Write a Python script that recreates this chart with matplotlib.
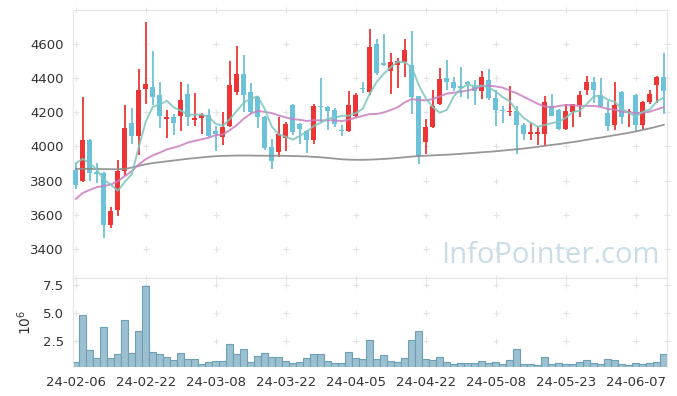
import numpy as np
import matplotlib
matplotlib.use("Agg")
import matplotlib.pyplot as plt

# trading days (KRX), shown as YY-MM-DD
dates = [
    "24-02-06", "24-02-07", "24-02-08", "24-02-13", "24-02-14", "24-02-15", "24-02-16",
    "24-02-19", "24-02-20", "24-02-21", "24-02-22", "24-02-23", "24-02-26", "24-02-27",
    "24-02-28", "24-02-29", "24-03-04", "24-03-05", "24-03-06", "24-03-07", "24-03-08",
    "24-03-11", "24-03-12", "24-03-13", "24-03-14", "24-03-15", "24-03-18", "24-03-19",
    "24-03-20", "24-03-21", "24-03-22", "24-03-25", "24-03-26", "24-03-27", "24-03-28",
    "24-03-29", "24-04-01", "24-04-02", "24-04-03", "24-04-04", "24-04-05", "24-04-08",
    "24-04-09", "24-04-11", "24-04-12", "24-04-15", "24-04-16", "24-04-17", "24-04-18",
    "24-04-19", "24-04-22", "24-04-23", "24-04-24", "24-04-25", "24-04-26", "24-04-29",
    "24-04-30", "24-05-02", "24-05-03", "24-05-07", "24-05-08", "24-05-09", "24-05-10",
    "24-05-13", "24-05-14", "24-05-16", "24-05-17", "24-05-20", "24-05-21", "24-05-22",
    "24-05-23", "24-05-24", "24-05-27", "24-05-28", "24-05-29", "24-05-30", "24-05-31",
    "24-06-03", "24-06-04", "24-06-05", "24-06-07", "24-06-10", "24-06-11", "24-06-12",
    "24-06-13",
]

opens = [
    3861, 3798, 4037, 3849, 3843, 3537, 3627, 3855, 4137, 4062,
    4333, 4345, 4300, 4162, 4173, 4180, 4308, 4151, 4167, 4184,
    4088, 4057, 4116, 4316, 4425, 4320, 4290, 4173, 3997, 3968,
    4046, 4242, 4131, 4090, 4039, 4237, 4231, 4214, 4092, 4092,
    4178, 4338, 4316, 4598, 4486, 4439, 4476, 4492, 4478, 4295,
    4028, 4110, 4247, 4398, 4378, 4352, 4368, 4345, 4322, 4388,
    4284, 4206, 4198, 4208, 4127, 4074, 4074, 4069, 4233, 4214,
    4104, 4202, 4239, 4327, 4378, 4298, 4192, 4127, 4320, 4198,
    4302, 4127, 4257, 4359, 4408,
]
highs = [
    3902, 4290, 4040, 3904, 3850, 3647, 3918, 4241, 4222, 4453,
    4725, 4559, 4376, 4212, 4188, 4378, 4365, 4312, 4194, 4216,
    4120, 4202, 4500, 4588, 4535, 4369, 4295, 4180, 4041, 4171,
    4140, 4245, 4137, 4095, 4248, 4401, 4237, 4222, 4124, 4324,
    4310, 4376, 4688, 4629, 4659, 4547, 4517, 4629, 4676, 4296,
    4159, 4329, 4459, 4502, 4404, 4463, 4380, 4388, 4443, 4449,
    4331, 4237, 4353, 4237, 4139, 4139, 4120, 4296, 4306, 4220,
    4247, 4250, 4325, 4412, 4405, 4400, 4264, 4377, 4322, 4218,
    4303, 4263, 4332, 4412, 4547,
]
lows = [
    3751, 3790, 3800, 3786, 3465, 3524, 3594, 3829, 4012, 3949,
    4247, 4243, 4106, 4047, 4067, 4088, 4118, 4118, 4071, 4055,
    3973, 4006, 4110, 4302, 4198, 4190, 4105, 3977, 3865, 3935,
    3975, 4068, 4016, 3958, 4012, 4143, 4094, 4114, 4059, 4085,
    4170, 4310, 4302, 4419, 4470, 4308, 4339, 4404, 4190, 3894,
    3955, 4105, 4240, 4329, 4325, 4290, 4276, 4241, 4276, 4270,
    4118, 4139, 4178, 3953, 4035, 4035, 4006, 4002, 4175, 4094,
    4098, 4110, 4170, 4300, 4253, 4230, 4088, 4094, 4129, 4115,
    4088, 4104, 4250, 4251, 4190,
]
closes = [
    3772, 4037, 3845, 3839, 3539, 3620, 3855, 4108, 4063, 4331,
    4367, 4286, 4175, 4172, 4137, 4273, 4169, 4167, 4182, 4063,
    4074, 4112, 4361, 4425, 4302, 4198, 4169, 3992, 3915, 4072,
    4131, 4086, 4102, 4039, 4235, 4227, 4204, 4133, 4090, 4243,
    4302, 4333, 4578, 4431, 4476, 4490, 4498, 4561, 4290, 3943,
    4113, 4237, 4396, 4375, 4339, 4340, 4365, 4324, 4408, 4282,
    4215, 4204, 4208, 4127, 4069, 4084, 4084, 4261, 4180, 4104,
    4208, 4245, 4302, 4374, 4329, 4235, 4121, 4243, 4169, 4208,
    4127, 4261, 4308, 4404, 4325,
]

# volume, millions of shares
volumes = [
    0.60, 4.82, 1.66, 0.93, 3.73, 0.93, 1.30, 4.37, 1.39, 3.37,
    7.47, 1.48, 1.30, 1.02, 0.75, 1.39, 0.84, 0.84, 0.39, 0.60,
    0.66, 0.66, 2.20, 1.30, 1.75, 0.57, 1.11, 1.39, 1.02, 1.02,
    0.66, 0.48, 0.57, 0.93, 1.30, 1.30, 0.66, 0.48, 0.48, 1.48,
    0.93, 0.84, 2.56, 0.84, 1.20, 0.66, 0.57, 0.93, 2.56, 3.37,
    0.84, 0.75, 1.02, 0.57, 0.39, 0.48, 0.48, 0.48, 0.66, 0.48,
    0.57, 0.39, 0.75, 1.75, 0.39, 0.39, 0.30, 1.02, 0.39, 0.48,
    0.39, 0.39, 0.57, 0.75, 0.48, 0.39, 0.84, 0.75, 0.39, 0.30,
    0.48, 0.39, 0.48, 0.57, 1.30,
]

# moving averages as drawn on the chart (5, 20, 60 days)
ma5 = [
    3900, 3927, 3900, 3864, 3806, 3776, 3740, 3792, 3837, 3995,
    4145, 4231, 4244, 4266, 4227, 4209, 4185, 4184, 4186, 4171,
    4131, 4120, 4158, 4207, 4255, 4280, 4291, 4217, 4115, 4069,
    4056, 4039, 4061, 4086, 4119, 4138, 4161, 4168, 4178, 4179,
    4194, 4220, 4309, 4377, 4424, 4462, 4495, 4491, 4463, 4356,
    4281, 4229, 4196, 4213, 4292, 4337, 4363, 4349, 4355, 4344,
    4319, 4287, 4263, 4207, 4165, 4138, 4114, 4125, 4136, 4143,
    4167, 4200, 4208, 4247, 4292, 4297, 4272, 4260, 4219, 4195,
    4174, 4202, 4215, 4262, 4285,
]
ma20 = [
    3692, 3727, 3745, 3761, 3768, 3776, 3796, 3825, 3855, 3894,
    3924, 3947, 3963, 3982, 3992, 4005, 4022, 4032, 4041, 4050,
    4065, 4069, 4095, 4124, 4162, 4191, 4207, 4201, 4194, 4181,
    4169, 4159, 4155, 4148, 4153, 4151, 4153, 4151, 4147, 4156,
    4167, 4178, 4189, 4189, 4198, 4212, 4229, 4257, 4276, 4270,
    4269, 4276, 4291, 4308, 4313, 4319, 4327, 4336, 4352, 4354,
    4350, 4343, 4325, 4310, 4289, 4269, 4248, 4233, 4228, 4236,
    4241, 4241, 4236, 4236, 4236, 4230, 4218, 4214, 4202, 4199,
    4194, 4197, 4202, 4216, 4229,
]
ma60 = [
    3868, 3868, 3868, 3867, 3867, 3866, 3866, 3868, 3876, 3886,
    3895, 3902, 3907, 3912, 3917, 3922, 3927, 3931, 3935, 3939,
    3942, 3944, 3945, 3946, 3946, 3946, 3945, 3945, 3945, 3945,
    3944, 3943, 3942, 3941, 3938, 3936, 3932, 3928, 3924, 3922,
    3921, 3921, 3922, 3924, 3926, 3929, 3932, 3936, 3940, 3943,
    3945, 3947, 3949, 3951, 3953, 3956, 3959, 3962, 3965, 3968,
    3971, 3975, 3979, 3983, 3987, 3992, 3997, 4003, 4008, 4013,
    4019, 4025, 4031, 4038, 4045, 4051, 4058, 4065, 4072, 4079,
    4087, 4096, 4105, 4115, 4126,
]

price_ticks = [3400, 3600, 3800, 4000, 4200, 4400, 4600]
vol_ticks = [2.5, 5.0, 7.5]
date_tick_step = 10

UP = "#ee3535"
DOWN = "#6cc2d8"
GRID = "#e3e3e3"
SPINE = "#e4e4e4"

x = np.arange(len(dates))
o = np.array(opens, float)
c = np.array(closes, float)
up = c >= o
colors = np.where(up, UP, DOWN)

fig = plt.figure(figsize=(6.77, 3.96), dpi=100)
ax = fig.add_axes([0.1078, 0.298, 0.8774, 0.6768])
axv = fig.add_axes([0.1078, 0.0732, 0.8774, 0.2247], sharex=ax)

xticks = x[::date_tick_step]

# price panel
ax.vlines(x, lows, highs, colors=colors, linewidth=1.3, zorder=2)
body = np.maximum(np.abs(c - o), 8)
ax.bar(x, body, bottom=np.minimum(o, c), width=0.68, color=colors, zorder=3)
ax.plot(x, ma60, color="#8c8c8c", lw=1.3, alpha=0.9, zorder=4)
ax.plot(x, ma20, color="#c87fc0", lw=1.4, alpha=0.85, zorder=4)
ax.plot(x, ma5, color="#7cc6bd", lw=1.4, alpha=0.85, zorder=4)

gx, gy = np.meshgrid(xticks, price_ticks)
ax.scatter(gx.ravel(), gy.ravel(), marker="+", s=20, color=GRID, linewidths=0.8, zorder=0)
ax.set_ylim(3230, 4797)
ax.set_yticks(price_ticks)
ax.text(0.988, 0.03, "InfoPointer.com", transform=ax.transAxes, ha="right", va="bottom",
        fontsize=21, family="Open Sans", color="#cadce6", zorder=1)

# volume panel
axv.bar(x, volumes, width=1.0, color="#9cc0d0", edgecolor="#6d9fb6", linewidth=0.8, zorder=2)
gx, gy = np.meshgrid(xticks, vol_ticks)
axv.scatter(gx.ravel(), gy.ravel(), marker="+", s=20, color=GRID, linewidths=0.8, zorder=0)
axv.set_ylim(0.12, 8.16)
axv.set_yticks(vol_ticks)
axv.set_yticklabels(["2.5", "5.0", "7.5"])
axv.set_ylabel(r"$10^6$", fontsize=10, color="#333333", labelpad=6)

axv.set_xlim(-0.4, 84.45)
axv.set_xticks(xticks)
axv.set_xticklabels([dates[i] for i in xticks])

for a in (ax, axv):
    for s in a.spines.values():
        s.set_color(SPINE)
    a.tick_params(axis="both", labelsize=9.5, labelcolor="#333333", length=0, pad=4)
    a.tick_params(axis="x", top=True, direction="inout", length=5, color=GRID)
    a.tick_params(axis="y", right=True, direction="inout", length=5, color=GRID)
    a.tick_params(axis="y", left=False)
    a.tick_params(axis="x", bottom=False)
axv.spines["bottom"].set_visible(False)
plt.setp(ax.get_xticklabels(), visible=False)

fig.savefig("out.png", dpi=100)
